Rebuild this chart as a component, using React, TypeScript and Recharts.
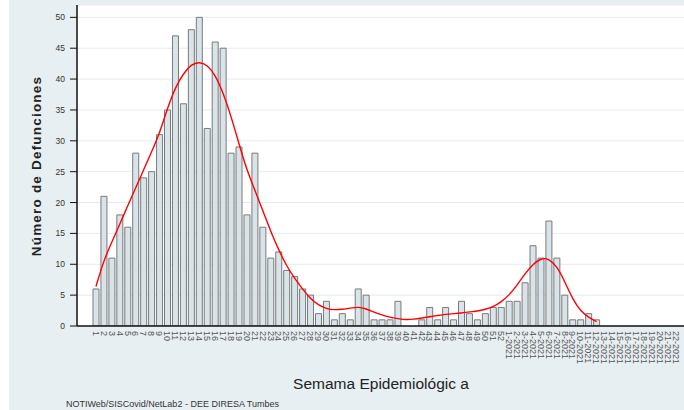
import { ComposedChart, Bar, Line, XAxis, YAxis, CartesianGrid } from 'recharts'

// semanas epidemiológicas: 2020 y luego 2021
const semanas = [
    '1', '2', '3', '4', '5', '6', '7', '8', '9', '10',
    '11', '12', '13', '14', '15', '16', '17', '18', '19', '20',
    '21', '22', '23', '24', '25', '26', '27', '28', '29', '30',
    '31', '32', '33', '34', '35', '36', '37', '38', '39', '40',
    '41', '42', '43', '44', '45', '46', '47', '48', '49', '50',
    '51', '52',
    '1-2021', '2-2021', '3-2021', '4-2021', '5-2021', '6-2021', '7-2021', '8-2021', '9-2021', '10-2021',
    '11-2021', '12-2021', '13-2021', '14-2021', '15-2021', '16-2021', '17-2021', '18-2021', '19-2021', '20-2021',
    '21-2021', '22-2021',
]

const defunciones = [
    6, 21, 11, 18, 16, 28, 24, 25, 31, 35,
    47, 36, 48, 50, 32, 46, 45, 28, 29, 18,
    28, 16, 11, 12, 9, 8, 6, 5, 2, 4,
    1, 2, 1, 6, 5, 1, 1, 1, 4, 0,
    0, 1, 3, 1, 3, 1, 4, 2, 1, 2,
    3, 3, 4, 4, 7, 13, 11, 17, 11, 5,
    1, 1, 2, 1, 0, 0, 0, 0, 0, 0,
    0, 0, 0, 0,
]

// curva suavizada (roja)
const curvaSuavizada = [
    6.4, 10.7, 13.6, 16.5, 19.5, 22.4, 25.3, 28.2, 31.2, 35.3,
    38.7, 40.9, 42.4, 42.8, 42.3, 40.7, 37.8, 34.0, 29.5, 25.2,
    22.0, 18.7, 15.3, 12.3, 9.7, 7.7, 6.0, 4.4, 3.4, 2.8,
    2.6, 2.7, 2.9, 3.1, 2.8, 2.2, 1.8, 1.4, 1.2, 1.0,
    1.1, 1.3, 1.5, 1.7, 1.9, 2.0, 2.1, 2.3, 2.4, 2.7,
    3.1, 3.9, 5.0, 6.6, 8.5, 10.0, 11.0, 10.9, 9.7, 7.2,
    4.3, 2.4, 1.4, 0.7,
]

const yTicks = [0, 5, 10, 15, 20, 25, 30, 35, 40, 45, 50]

const data = semanas.map((semana, i) => ({
    semana,
    defunciones: defunciones[i] ?? 0,
    curva: curvaSuavizada[i] ?? null,
}))

const FONT = 'Liberation Sans, Arial, Helvetica, sans-serif'

function SemanaTick(props: any) {
    const { x, y, payload } = props
    return (
        <text
            transform={`translate(${x},${y + 3}) rotate(90)`}
            textAnchor="start"
            dy="0.36em"
            fontSize={9}
            fill="#555"
            fontFamily={FONT}
        >
            {payload.value}
        </text>
    )
}

export default function App() {
    return (
        <div style={{ position: 'absolute', left: 0, top: 0, width: 684, height: 410, overflow: 'hidden', background: '#ffffff', fontFamily: FONT }}>
            <div style={{ position: 'absolute', left: 9, top: 0, right: 0, bottom: 0, background: '#e8eff2' }} />
            <div style={{ position: 'absolute', left: 0, top: 0 }}>
                <ComposedChart
                    width={684}
                    height={410}
                    data={data}
                    margin={{ top: 5, right: 0, bottom: 0, left: 0 }}
                    barCategoryGap={1}
                >
                    <CartesianGrid vertical={false} stroke="#e4ecef" fill="#ffffff" />
                    <XAxis
                        dataKey="semana"
                        interval={0}
                        height={84}
                        tickLine={false}
                        tickSize={0}
                        tick={<SemanaTick />}
                        axisLine={{ stroke: '#111', strokeWidth: 1.5 }}
                        padding={{ left: 15, right: 4 }}
                    />
                    <YAxis
                        width={77}
                        domain={[0, 52]}
                        ticks={yTicks}
                        allowDataOverflow
                        tickSize={7}
                        tickMargin={5}
                        tick={{ fontSize: 8.5, fill: '#333', fontFamily: FONT }}
                        tickLine={{ stroke: '#111' }}
                        axisLine={{ stroke: '#111', strokeWidth: 1.5 }}
                    />
                    <Bar
                        dataKey="defunciones"
                        fill="#d9e4ea"
                        stroke="#7a7a7a"
                        strokeWidth={1}
                        isAnimationActive={false}
                    />
                    <Line
                        dataKey="curva"
                        type="basis"
                        stroke="#ff0000"
                        strokeWidth={1.4}
                        dot={false}
                        connectNulls={false}
                        isAnimationActive={false}
                    />
                </ComposedChart>
            </div>
            <div
                style={{
                    position: 'absolute', left: 37, top: 166,
                    transform: 'translate(-50%, -50%) rotate(-90deg)',
                    whiteSpace: 'nowrap', fontSize: 13.5, fontWeight: 'bold',
                    letterSpacing: 1.2, color: '#222', lineHeight: 1,
                }}
            >
                Número de Defunciones
            </div>
            <div
                style={{
                    position: 'absolute', left: 381, top: 376,
                    transform: 'translateX(-50%)', whiteSpace: 'nowrap',
                    fontSize: 15.5, color: '#222', lineHeight: 1,
                }}
            >
                Semama Epidemiológic a
            </div>
            <div
                style={{
                    position: 'absolute', left: 66, top: 400,
                    whiteSpace: 'nowrap', fontSize: 9, color: '#333', lineHeight: 1,
                }}
            >
                NOTIWeb/SISCovid/NetLab2 - DEE DIRESA Tumbes
            </div>
        </div>
    )
}
